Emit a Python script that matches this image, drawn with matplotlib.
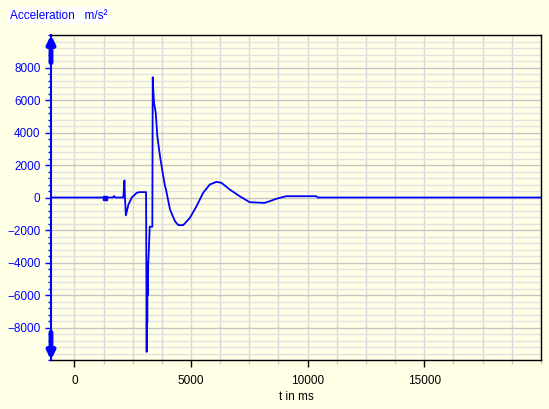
import matplotlib.pyplot as plt
from matplotlib.ticker import MultipleLocator, FixedLocator

# t in ms, acceleration in m/s^2
t_ms = [-1000, 1250, 1300, 1340, 1400, 1650, 1700, 1760, 2100, 2148, 2170, 2208,
        2319, 2464, 2677, 2788, 3074, 3100, 3115, 3125, 3135, 3150, 3165,
        3200, 3230, 3343, 3360, 3386, 3416, 3489, 3557, 3672, 3787, 3886,
        3928, 4100, 4313, 4454, 4667, 4953, 5239, 5521, 5807, 6093, 6307,
        6661, 7088, 7515, 8156, 8369, 8655, 9082, 10363, 10432, 20000]
accel = [0, 0, 30, 30, 0, 0, 90, 0, 0, 1050, 0, -1100,
         -430, 0, 290, 330, 330, -9500, -4000, -7700, -4500, -6000, -4200,
         -3000, -1800, -1800, 7400, 6540, 5830, 5210, 3770, 2540, 1520, 700,
         490, -740, -1460, -1700, -1700, -1250, -530, 290, 800, 965, 900,
         490, 80, -290, -330, -230, -80, 80, 80, 0, 0]

x_ticks = [0, 5000, 10000, 15000]
y_ticks = [-8000, -6000, -4000, -2000, 0, 2000, 4000, 6000, 8000]

bg = "#ffffe6"
blue = "#0000ff"

plt.rcParams["font.family"] = ["Liberation Sans", "DejaVu Sans"]

fig = plt.figure(figsize=(5.49, 4.09), dpi=100, facecolor=bg)
ax = fig.add_axes([0.0929, 0.1198, 0.8925, 0.7946], facecolor=bg)

ax.plot(t_ms, accel, color=blue, lw=1.3, zorder=3)
ax.plot([1324], [0], marker="s", ms=3, color=blue, zorder=3)

ax.set_xlim(-1000, 20000)
ax.set_ylim(-10000, 10000)

# grid
ax.xaxis.set_major_locator(FixedLocator(x_ticks))
ax.xaxis.set_minor_locator(MultipleLocator(1250))
ax.yaxis.set_major_locator(FixedLocator(y_ticks))
ax.yaxis.set_minor_locator(MultipleLocator(400))
ax.grid(which="major", axis="y", color="#c4c4c4", lw=1.0)
ax.grid(which="minor", axis="y", color="#e2e2e2", lw=1.0)
ax.grid(which="both", axis="x", color="#d8d8d8", lw=1.0)
ax.set_axisbelow(True)

for s in ["top", "right", "bottom"]:
    ax.spines[s].set_color("black")
    ax.spines[s].set_linewidth(1.0)
ax.spines["left"].set_color(blue)
ax.spines["left"].set_linewidth(1.5)

ax.tick_params(axis="y", which="major", colors=blue, labelsize=8.5, length=4, width=1)
ax.tick_params(axis="y", which="minor", colors=blue, length=2.5, width=1)
ax.tick_params(axis="x", which="major", colors="black", labelsize=8.5, length=5, width=1, pad=6)
ax.tick_params(axis="x", which="minor", colors="#c8c8c8", length=3, width=1)

ax.set_xlabel("t in ms", fontsize=8.5, labelpad=3)

# arrows at both ends of the y axis
ax.annotate("", xy=(0, 1.0), xytext=(0, 0.915), xycoords="axes fraction",
            arrowprops=dict(arrowstyle="-|>", color=blue, lw=3.5, mutation_scale=11,
                            shrinkA=0, shrinkB=0), zorder=5, annotation_clip=False)
ax.annotate("", xy=(0, 0.0), xytext=(0, 0.085), xycoords="axes fraction",
            arrowprops=dict(arrowstyle="-|>", color=blue, lw=3.5, mutation_scale=11,
                            shrinkA=0, shrinkB=0), zorder=5, annotation_clip=False)

fig.text(0.018, 0.962, "Acceleration   m/s²", color=blue, fontsize=8.5, va="center",
         ha="left", bbox=dict(facecolor="white", edgecolor="none", pad=1.5))

fig.savefig("out.png", dpi=100, facecolor=bg)
